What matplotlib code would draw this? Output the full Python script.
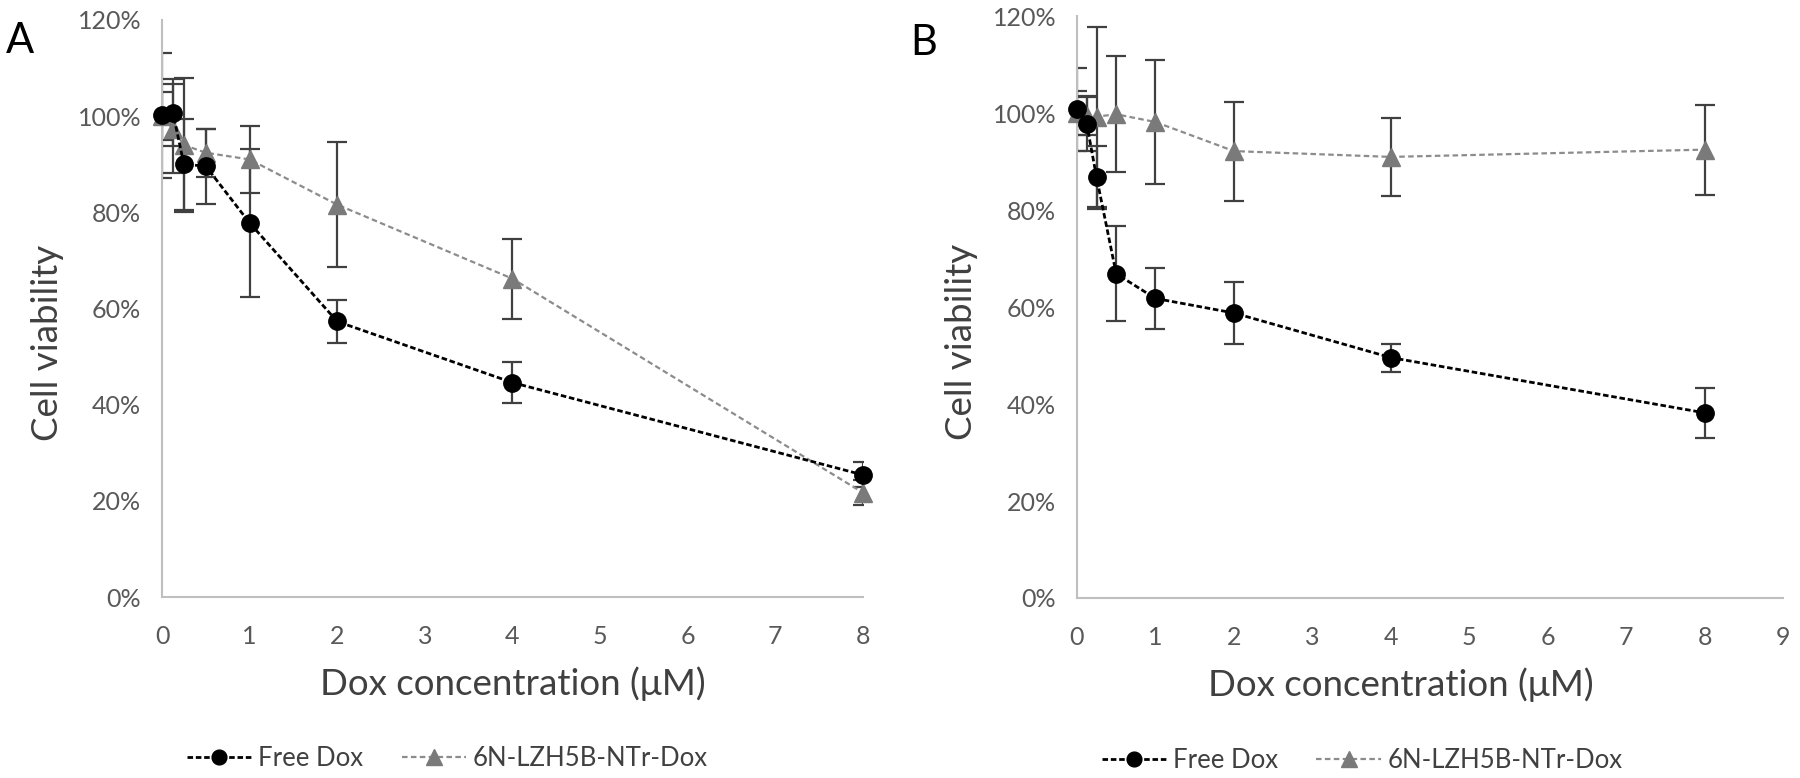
import numpy as np
import matplotlib
matplotlib.use("Agg")
import matplotlib.pyplot as plt
from matplotlib.ticker import PercentFormatter

plt.rcParams['font.family'] = ['Lato', 'DejaVu Sans']

# concentrations (uM)
conc = [0, 0.125, 0.25, 0.5, 1, 2, 4, 8]

# panel A: cell viability (%) and error
a_free = [100.2, 100.7, 90.0, 89.6, 77.8, 57.3, 44.6, 25.4]
a_free_err = [13.0, 7.0, 9.5, 7.8, 15.4, 4.4, 4.2, 2.6]
a_nano = [100.0, 97.4, 94.0, 92.4, 91.0, 81.6, 66.2, 21.7]
a_nano_err = [5.0, 9.3, 13.9, 5.0, 7.0, 13.0, 8.3, 2.6]

# panel B
b_free = [100.8, 97.8, 86.8, 66.9, 61.8, 58.8, 49.6, 38.2]
b_free_err = [8.5, 5.5, 6.5, 9.8, 6.3, 6.4, 2.9, 5.2]
b_nano = [100.0, 99.5, 99.3, 99.8, 98.2, 92.2, 91.0, 92.5]
b_nano_err = [4.5, 4.0, 18.6, 12.0, 12.7, 10.2, 8.0, 9.3]

labels = ["Free Dox", "6N-LZH5B-NTr-Dox"]

fig = plt.figure(figsize=(18, 7.78), dpi=100)
axA = fig.add_axes([0.09, 0.2326, 0.3894, 0.7417])
axB = fig.add_axes([0.5983, 0.2314, 0.3923, 0.7476])


def panel(ax, free, free_err, nano, nano_err, xmax, xlab_x, leg_x):
    x = np.array(conc)
    # error bars (clipped at the axes like Excel)
    ax.errorbar(x, np.array(free) / 100, yerr=np.array(free_err) / 100, fmt='none',
                ecolor='#404040', elinewidth=1.6, capsize=7, capthick=1.6, zorder=2)
    ax.errorbar(x, np.array(nano) / 100, yerr=np.array(nano_err) / 100, fmt='none',
                ecolor='#404040', elinewidth=1.6, capsize=7, capthick=1.6, zorder=2)
    ax.plot(x, np.array(nano) / 100, color='#8c8c8c', linestyle=(0, (2.5, 1.5)), linewidth=1.6,
            marker='^', markersize=13, markerfacecolor='#7a7a7a', markeredgecolor='#7a7a7a',
            label=labels[1], clip_on=False, zorder=3)
    ax.plot(x, np.array(free) / 100, color='black', linestyle=(0, (2, 1)), linewidth=2,
            marker='o', markersize=12.5, markerfacecolor='black', markeredgecolor='black',
            label=labels[0], clip_on=False, zorder=4)

    ax.set_xlim(0, xmax)
    ax.set_ylim(0, 1.2)
    ax.set_xticks(range(0, xmax + 1))
    ax.set_yticks(np.arange(0, 1.21, 0.2))
    ax.yaxis.set_major_formatter(PercentFormatter(1.0, decimals=0))
    for s in ['top', 'right']:
        ax.spines[s].set_visible(False)
    for s in ['left', 'bottom']:
        ax.spines[s].set_color('#bfbfbf')
        ax.spines[s].set_linewidth(1.5)
    ax.tick_params(length=0, labelsize=18, labelcolor='#595959')
    ax.tick_params(axis='x', pad=20)
    ax.tick_params(axis='y', pad=15)
    ax.set_xlabel("Dox concentration (\u03bcM)", fontsize=26.5, color='#404040')
    ax.set_ylabel("Cell viability", fontsize=26.5, color='#404040')
    ax.xaxis.set_label_coords(xlab_x, -0.12)
    ax.yaxis.set_label_coords(-0.14, 0.44)

    h, l = ax.get_legend_handles_labels()
    ax.legend(h[::-1], l[::-1], loc='center', bbox_to_anchor=(leg_x, -0.28), ncol=2,
              frameon=False, fontsize=18.5, labelcolor='#404040', markerscale=0.85,
              handlelength=2.5, columnspacing=1.5, handletextpad=0.25)


panel(axA, a_free, a_free_err, a_nano, a_nano_err, 8, 0.5, 0.407)
panel(axB, b_free, b_free_err, b_nano, b_nano_err, 9, 0.459, 0.404)

fig.text(0.003, 0.932, "A", fontsize=30, color='black', va='baseline')
fig.text(0.5056, 0.929, "B", fontsize=30, color='black', va='baseline')

fig.savefig("out.png", dpi=100)
